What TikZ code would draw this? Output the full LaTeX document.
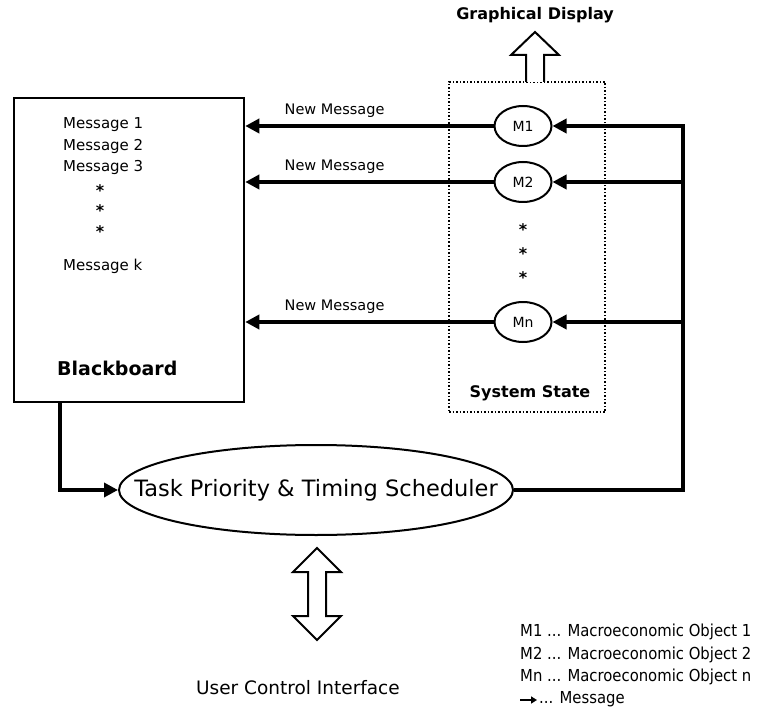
\documentclass[tikz,border=0pt]{standalone}
\usepackage{fontspec}
\setmainfont{DejaVu Sans}
\newfontfamily\condf{DejaVu Sans Condensed}
\usetikzlibrary{shapes.geometric,arrows.meta}
\begin{document}
\begin{tikzpicture}[x=1pt,y=-1pt,
  lbl/.style={inner sep=0pt,font=\fontsize{15}{17}\selectfont},
  boldlbl/.style={inner sep=0pt,font=\bfseries\fontsize{15}{17}\selectfont},
  nmlbl/.style={inner sep=0pt,font=\fontsize{14.5}{16}\selectfont},
  star/.style={inner sep=0pt,font=\bfseries\fontsize{16}{18}\selectfont,yshift=-4pt},
  wire/.style={line width=4pt,line join=miter},
  msg/.style={wire,-{Triangle[length=14pt,width=14pt]}},
  obj/.style={draw,ellipse,line width=2pt,minimum width=57pt,minimum height=40pt,inner sep=0pt,font=\fontsize{14}{16}\selectfont},
  openarrow/.style={draw,line width=2pt,fill=white,line join=miter},
  legend/.style={inner sep=0pt,anchor=west,font=\condf\fontsize{16.5}{18}\selectfont}]
\useasboundingbox (0,0) rectangle (773,711);

% blackboard
\node[draw,line width=2.5pt,minimum width=230pt,minimum height=304pt,inner sep=0pt] (bb) at (129,250) {};
\node[lbl,anchor=west] (t1) at (63,125) {Message 1};
\node[lbl,anchor=west] (t2) at (63,146) {Message 2};
\node[lbl,anchor=west] (t3) at (63,167) {Message 3};
\node[star] (d1) at (100,187) {*};
\node[star] (d2) at (100,207) {*};
\node[star] (d3) at (100,228) {*};
\node[lbl,anchor=west] (tk) at (63,266) {Message k};
\node[boldlbl,anchor=west,font=\bfseries\fontsize{19}{21}\selectfont] (bbl) at (57,368) {Blackboard};

% system state
\node[draw,dotted,line width=1.5pt,minimum width=156pt,minimum height=330pt,inner sep=0pt] (ss) at (527,247) {};
\node[boldlbl,font=\bfseries\fontsize{16}{18}\selectfont] (ssl) at (530,393) {System State};
\node[obj] (m1) at (523,126) {M1};
\node[obj] (m2) at (523,182) {M2};
\node[obj] (mn) at (523,322) {Mn};
\node[star] (s1) at (523,226) {*};
\node[star] (s2) at (523,250) {*};
\node[star] (s3) at (523,274) {*};

% graphical display
\node[boldlbl,font=\bfseries\fontsize{16}{18}\selectfont] (gd) at (535,15) {Graphical Display};
\draw[openarrow] (526,82) -- (526,55) -- (511,55) -- (535,32) -- (559,55) -- (544,55) -- (544,82);

% scheduler
\node[draw,ellipse,line width=2pt,minimum width=394pt,minimum height=90pt,inner sep=0pt] (sch) at (316,490) {};
\node[inner sep=0pt,font=\fontsize{22.5}{25}\selectfont] (schl) at (sch.center) {Task Priority \& Timing Scheduler};

% new message arrows
\draw[msg] (m1.west) -- (m1.west -| bb.east) node[pos=0.64,above=6pt,nmlbl] (nm1) {New Message};
\draw[msg] (m2.west) -- (m2.west -| bb.east) node[pos=0.64,above=6pt,nmlbl] (nm2) {New Message};
\draw[msg] (mn.west) -- (mn.west -| bb.east) node[pos=0.64,above=6pt,nmlbl] (nm3) {New Message};

% feedback from scheduler
\coordinate (r1) at (683,126);
\coordinate (r2) at (683,182);
\coordinate (rn) at (683,322);
\draw[msg] (sch.east) -| (r1) -- (m1.east);
\draw[msg] (r2) -- (m2.east);
\draw[msg] (rn) -- (mn.east);

% blackboard to scheduler
\coordinate (bl) at (60,402);
\draw[msg] (bl) |- (sch.west);

% user control interface
\draw[openarrow] (308,572) -- (293,572) -- (317,548) -- (341,572) -- (326,572) -- (326,616) -- (341,616) -- (317,640) -- (293,616) -- (308,616) -- cycle;
\node[lbl,font=\fontsize{18.5}{21}\selectfont] (uci) at (298,688) {User Control Interface};

% legend
\node[legend] (l1) at (520,632) {M1 ... Macroeconomic Object 1};
\node[legend] (l2) at (520,655) {M2 ... Macroeconomic Object 2};
\node[legend] (l3) at (520,677) {Mn ... Macroeconomic Object n};
\coordinate (la) at (520,700);
\coordinate (lb) at (537,700);
\draw[line width=2.5pt,-{Triangle[length=6pt,width=7pt]}] (la) -- (lb);
\node[legend] (l4) at (539,699) {... Message};
\end{tikzpicture}
\end{document}
